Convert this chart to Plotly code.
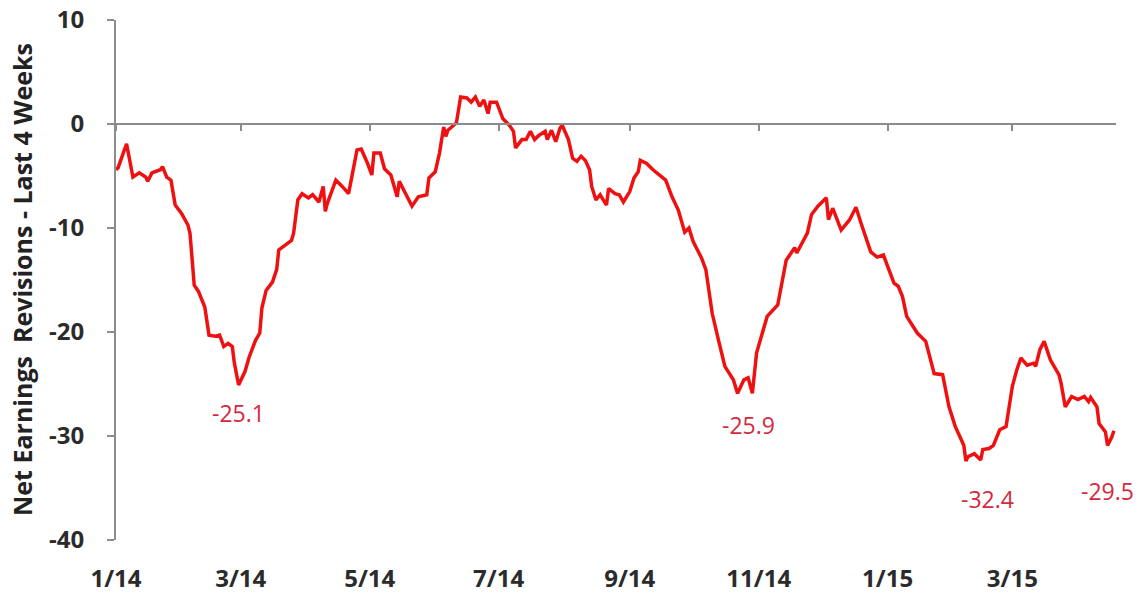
import pandas as pd
import plotly.graph_objects as go

# Days after 2014-01-01 and the net earnings revisions (last 4 weeks)
day_offsets = [0, 1, 5, 8, 11, 14, 15, 17, 21, 22, 24, 26, 28, 31, 34, 35, 37, 39, 42, 44,
               47, 49, 51, 53, 55, 56, 58, 61, 63, 66, 68, 69, 71, 74, 76, 77, 81, 83, 84, 86,
               88, 91, 93, 96, 98, 99, 100, 104, 107, 110, 114, 116, 119, 121, 122, 125, 127, 130, 133, 134,
               137, 140, 143, 147, 148, 151, 153, 155, 156, 157, 161, 163, 166, 168, 170, 172, 174, 176, 177, 180,
               183, 186, 188, 189, 192, 194, 196, 198, 200, 203, 204, 206, 208, 210, 211, 214, 216, 218, 220, 222,
               224, 225, 227, 229, 232, 233, 236, 238, 240, 243, 245, 247, 248, 251, 254, 257, 260, 263, 266, 269,
               271, 273, 277, 279, 282, 285, 288, 292, 294, 297, 299, 301, 303, 308, 313, 317, 321, 322, 325, 327,
               329, 332, 336, 337, 339, 341, 343, 347, 350, 353, 357, 360, 363, 365, 368, 370, 372, 374, 379, 383,
               387, 391, 394, 397, 401, 402, 403, 406, 409, 410, 413, 415, 418, 421, 424, 426, 428, 431, 434, 435,
               437, 439, 442, 446, 447, 449, 452, 455, 458, 460, 461, 464, 465, 468, 469, 471, 472]
revisions = [-4.4, -4.2, -1.9, -5.1, -4.7, -5.1, -5.5, -4.7, -4.4, -4.1, -5.1, -5.4, -7.8, -8.6, -9.7, -10.5, -15.5, -16.1, -17.6, -20.3,
             -20.4, -20.3, -21.4, -21.1, -21.4, -23.0, -25.1, -23.8, -22.4, -20.8, -20.1, -17.7, -16.0, -15.2, -14.0, -12.1, -11.5, -11.2, -10.5, -7.3,
             -6.7, -7.1, -6.8, -7.5, -6.0, -8.4, -7.6, -5.4, -6.0, -6.7, -2.5, -2.4, -3.8, -4.9, -2.8, -2.8, -4.3, -4.9, -7.0, -5.5,
             -6.7, -7.9, -7.0, -6.8, -5.2, -4.6, -2.8, -0.3, -1.2, -0.6, 0.1, 2.6, 2.5, 2.1, 2.6, 1.7, 2.3, 1.0, 2.1, 2.1,
             0.5, -0.1, -0.7, -2.3, -1.5, -1.5, -0.7, -1.5, -1.1, -0.7, -1.5, -0.6, -1.7, -0.4, -0.1, -1.5, -3.3, -3.6, -3.1, -3.5,
             -4.4, -6.0, -7.3, -6.8, -7.8, -6.2, -6.7, -6.8, -7.5, -6.5, -5.2, -4.6, -3.5, -3.8, -4.4, -4.9, -5.4, -7.0, -8.3, -10.4,
             -10.0, -11.3, -12.9, -14.0, -18.2, -20.8, -23.3, -24.6, -25.9, -24.6, -24.4, -25.9, -22.0, -18.5, -17.4, -13.1, -11.9, -12.4, -11.2, -10.5,
             -8.7, -7.9, -7.1, -9.2, -8.1, -9.2, -10.2, -9.2, -8.0, -9.9, -12.3, -12.8, -12.6, -13.7, -15.3, -15.6, -16.6, -18.5, -20.1, -20.9,
             -24.0, -24.1, -27.2, -29.1, -30.9, -32.4, -32.0, -31.7, -32.3, -31.3, -31.2, -30.9, -29.4, -29.1, -25.2, -23.7, -22.5, -23.2, -23.0, -23.3,
             -21.7, -20.9, -22.7, -24.1, -24.9, -27.2, -26.2, -26.5, -26.2, -26.7, -26.3, -27.2, -28.8, -29.6, -30.9, -30.1, -29.5]

tick_dates = ["2014-01-01", "2014-03-01", "2014-05-01", "2014-07-01", "2014-09-01",
              "2014-11-01", "2015-01-01", "2015-03-01"]
tick_labels = ["1/14", "3/14", "5/14", "7/14", "9/14", "11/14", "1/15", "3/15"]
y_ticks = [10, 0, -10, -20, -30, -40]
y_tick_labels = ["10", "0", "-10", "-20", "-30", "-40"]

# Labelled troughs: (day offset, value, label)
trough_days = [58, 301, 402, 472]
trough_values = [-25.1, -25.9, -32.4, -29.5]
trough_labels = ["-25.1", "-25.9", "-32.4", "-29.5"]

start = pd.Timestamp("2014-01-01")
dates = [start + pd.Timedelta(days=d) for d in day_offsets]
x_range = [start, start + pd.Timedelta(days=473)]

fig = go.Figure()
fig.add_trace(go.Scatter(x=dates, y=revisions, mode="lines",
                         line=dict(color="#ee1111", width=3.5), showlegend=False,
                         hoverinfo="x+y"))

axis_font = dict(family="Open Sans", size=24, color="#2b2b2b", weight="bold")

fig.update_layout(
    width=1143, height=606,
    margin=dict(l=116, r=27, t=20, b=66, autoexpand=False),
    paper_bgcolor="white", plot_bgcolor="white",
    xaxis=dict(type="date", range=x_range, tickvals=tick_dates, ticktext=tick_labels,
               showline=False, ticks="", showgrid=False, zeroline=False, automargin=False,
               tickfont=axis_font, ticklabelstandoff=22),
    xaxis2=dict(type="date", range=x_range, tickvals=tick_dates, overlaying="x",
                anchor="free", position=0.8, showline=True, linecolor="#8c8c8c",
                linewidth=2, ticks="outside", ticklen=6, tickwidth=2, tickcolor="#8c8c8c",
                showticklabels=False, showgrid=False, zeroline=False, automargin=False),
    yaxis=dict(range=[-40, 10], tickvals=y_ticks, ticktext=y_tick_labels, showline=True,
               linecolor="#8c8c8c", automargin=False,
               linewidth=2, ticks="outside", ticklen=7, tickwidth=2, tickcolor="#8c8c8c",
               showgrid=False, zeroline=False, tickfont=axis_font, ticklabelstandoff=18),
)

# invisible trace on xaxis2 so the overlay axis is drawn
fig.add_trace(go.Scatter(x=[x_range[0]], y=[None], xaxis="x2", mode="lines",
                         showlegend=False, hoverinfo="skip"))

# y-axis title
fig.add_annotation(xref="paper", yref="paper", x=-0.094, y=0.5, textangle=-90,
                   text="Net Earnings  Revisions - Last 4 Weeks", showarrow=False,
                   xanchor="center", yanchor="middle",
                   font=dict(family="Open Sans", size=25, color="#222222", weight="bold"))

offsets_y = [-28, -32, -38, -60]
offsets_x = [0, -4, 22, -6]
for d, v, lab, oy, ox in zip(trough_days, trough_values, trough_labels, offsets_y, offsets_x):
    fig.add_annotation(x=start + pd.Timedelta(days=d), y=v, text=lab, showarrow=False,
                       xanchor="center", yanchor="middle", xshift=ox, yshift=oy,
                       font=dict(family="Open Sans", size=23, color="#d4283e"))

fig.write_html("out.html")
